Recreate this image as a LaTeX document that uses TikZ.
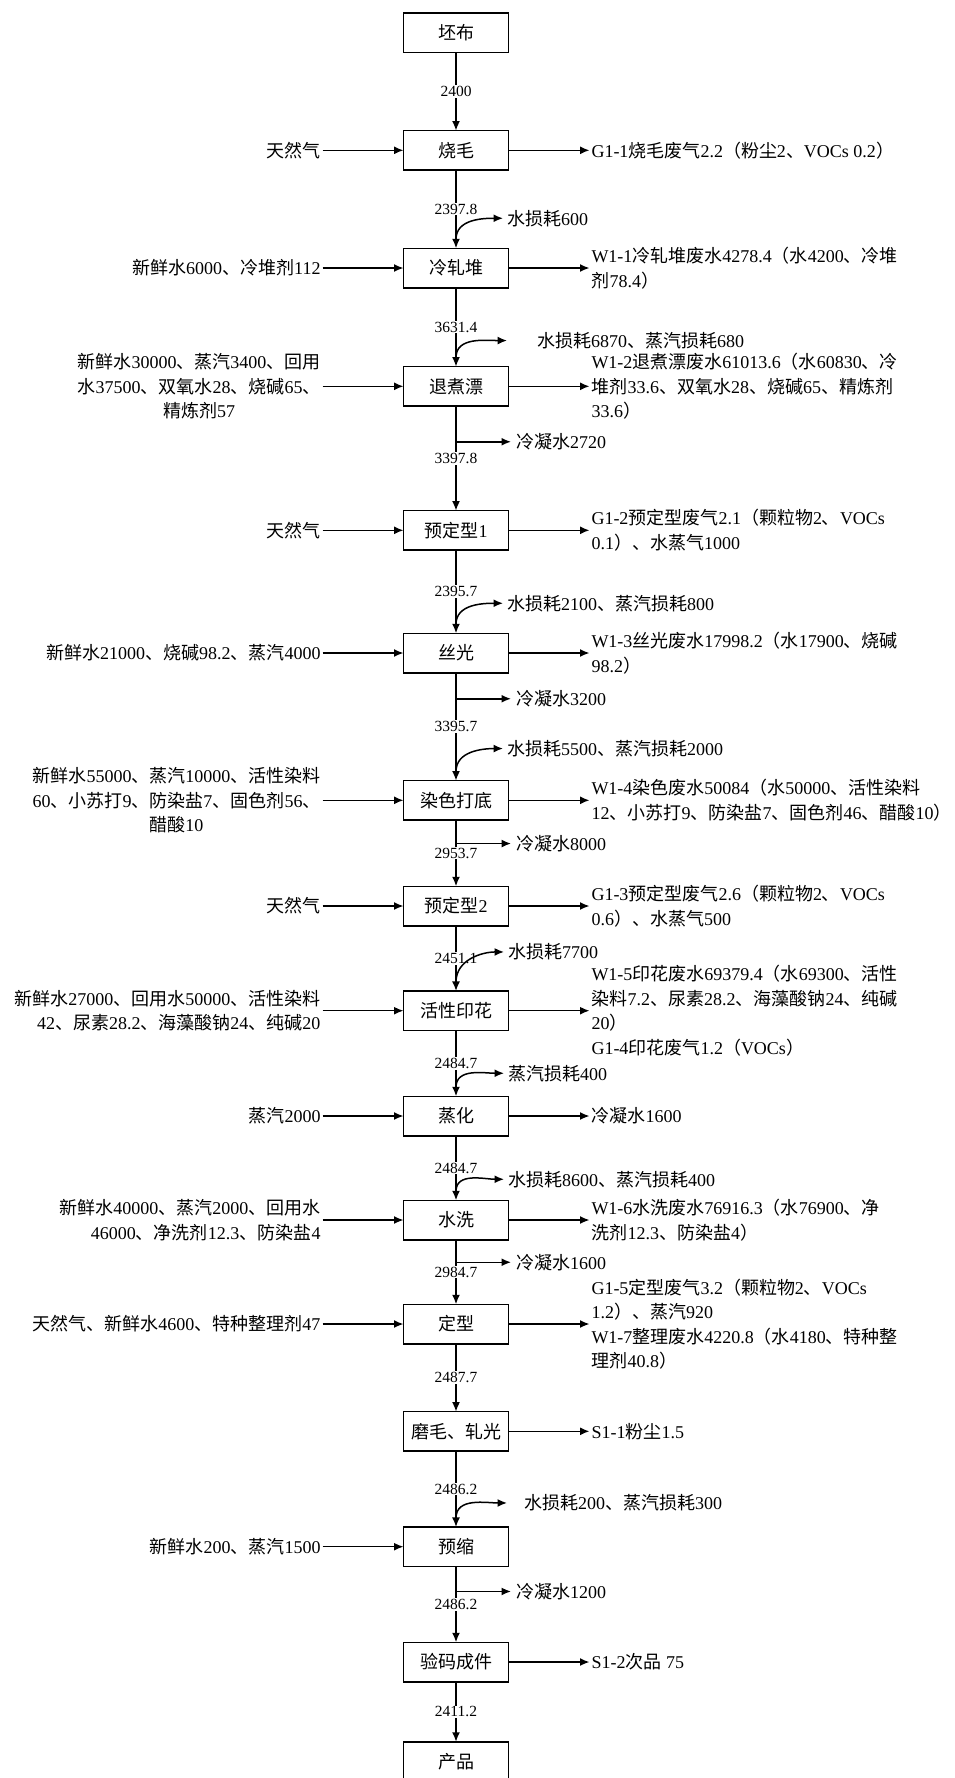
\documentclass[tikz,border=0pt]{standalone}
\usepackage{fontspec}
\setmainfont{Liberation Serif}
\newfontfamily\cjkfont{Noto Sans CJK SC}
\XeTeXinterchartokenstate=1
\newXeTeXintercharclass\cjkclass
\makeatletter
\def\cjkrange#1#2{\count@=#1\relax
  \loop\XeTeXcharclass\count@=\cjkclass
  \ifnum\count@<#2\advance\count@\@ne\repeat}
\cjkrange{"3000}{"303F}
\cjkrange{"4E00}{"9FFF}
\cjkrange{"FF00}{"FFEF}
\makeatother
\XeTeXinterchartoks 0 \cjkclass = {\begingroup\cjkfont}
\XeTeXinterchartoks 4095 \cjkclass = {\begingroup\cjkfont}
\XeTeXinterchartoks \cjkclass 0 = {\endgroup}
\XeTeXinterchartoks \cjkclass 4095 = {\endgroup}
\usepackage{tikz}
\usetikzlibrary{arrows.meta,positioning}

\begin{document}
\begin{tikzpicture}[>={Latex[length=9.5pt,width=8pt]},x=1pt,y=1pt,line width=1.5pt,outer sep=0pt,
  proc/.style={draw,minimum width=105pt,minimum height=39.5pt,font=\fontsize{18}{24.5}\selectfont},
  txt/.style={inner sep=2pt,font=\fontsize{18}{24.5}\selectfont},
  loss/.style={txt,inner xsep=4pt},
  cond/.style={txt,inner xsep=5pt}]
  \useasboundingbox (0,0) rectangle (954,-1778);
  \node[proc]          (1)  at (456,-32.5)         {坯布};
  \node[proc]          (2)  [below=78.3pt of 1]    {烧毛};
  \node[proc]          (3)  [below=78.2pt of 2]    {冷轧堆};
  \node[proc]          (4)  [below=78.8pt of 3]    {退煮漂};
  \node[proc]          (5)  [below=104.5pt of 4]   {预定型1};
  \node[proc]          (6)  [below=83.2pt of 5]    {丝光};
  \node[proc]          (7)  [below=107.8pt of 6]   {染色打底};
  \node[proc]          (8)  [below=66.2pt of 7]    {预定型2};
  \node[proc]          (9)  [below=65.2pt of 8]    {活性印花};
  \node[proc]          (10) [below=65.8pt of 9]    {蒸化};
  \node[proc]          (11) [below=64.5pt of 10]   {水洗};
  \node[proc]          (12) [below=64.5pt of 11]   {定型};
  \node[proc]          (13) [below=67.8pt of 12]   {磨毛、轧光};
  \node[proc]          (14) [below=75.9pt of 13]   {预缩};
  \node[proc]          (15) [below=75.8pt of 14]   {验码成件};
  \node[proc]          (16) [below=60pt of 15]     {产品};

  \node[txt]              (i2)  [left=81pt of 2]  {天然气};
  \node[txt]              (i3)  [left=81pt of 3]  {新鲜水6000、冷堆剂112};
  \node[txt,align=center] (i4)  [left=81pt of 4]  {新鲜水30000、蒸汽3400、回用\\水37500、双氧水28、烧碱65、\\精炼剂57};
  \node[txt]              (i5)  [left=81pt of 5]  {天然气};
  \node[txt]              (i6)  [left=81pt of 6]  {新鲜水21000、烧碱98.2、蒸汽4000};
  \node[txt,align=center] (i7)  [left=81pt of 7]  {新鲜水55000、蒸汽10000、活性染料\\60、小苏打9、防染盐7、固色剂56、\\醋酸10};
  \node[txt]              (i8)  [left=81pt of 8]  {天然气};
  \node[txt,align=right]  (i9)  [left=81pt of 9]  {新鲜水27000、回用水50000、活性染料\\42、尿素28.2、海藻酸钠24、纯碱20};
  \node[txt]              (i10) [left=81pt of 10] {蒸汽2000};
  \node[txt,align=right]  (i11) [left=81pt of 11] {新鲜水40000、蒸汽2000、回用水\\46000、净洗剂12.3、防染盐4};
  \node[txt]              (i12) [left=81pt of 12] {天然气、新鲜水4600、特种整理剂47};
  \node[txt]              (i14) [left=81pt of 14] {新鲜水200、蒸汽1500};

  \node[txt,align=left] (o2)  [right=81pt of 2]  {G1-1烧毛废气2.2（粉尘2、VOCs 0.2）};
  \node[txt,align=left] (o3)  [right=81pt of 3]  {W1-1冷轧堆废水4278.4（水4200、冷堆\\剂78.4）};
  \node[txt,align=left] (o4)  [right=81pt of 4]  {W1-2退煮漂废水61013.6（水60830、冷\\堆剂33.6、双氧水28、烧碱65、精炼剂\\33.6）};
  \node[txt,align=left] (o5)  [right=81pt of 5]  {G1-2预定型废气2.1（颗粒物2、VOCs\\0.1）、水蒸气1000};
  \node[txt,align=left] (o6)  [right=81pt of 6]  {W1-3丝光废水17998.2（水17900、烧碱\\98.2）};
  \node[txt,align=left] (o7)  [right=81pt of 7]  {W1-4染色废水50084（水50000、活性染料\\12、小苏打9、防染盐7、固色剂46、醋酸10）};
  \node[txt,align=left] (o8)  [right=81pt of 8]  {G1-3预定型废气2.6（颗粒物2、VOCs\\0.6）、水蒸气500};
  \node[txt,align=left] (o9)  [right=81pt of 9]  {W1-5印花废水69379.4（水69300、活性\\染料7.2、尿素28.2、海藻酸钠24、纯碱\\20）\\G1-4印花废气1.2（VOCs）};
  \node[txt,align=left] (o10) [right=81pt of 10] {冷凝水1600};
  \node[txt,align=left] (o11) [right=81pt of 11] {W1-6水洗废水76916.3（水76900、净\\洗剂12.3、防染盐4）};
  \node[txt,align=left] (o12) [right=81pt of 12] {G1-5定型废气3.2（颗粒物2、VOCs\\1.2）、蒸汽920\\W1-7整理废水4220.8（水4180、特种整\\理剂40.8）};
  \node[txt,align=left] (o13) [right=81pt of 13] {S1-1粉尘1.5};
  \node[txt,align=left] (o15) [right=81pt of 15] {S1-2次品 75};

  \coordinate [above=9pt of 3]  (s3);
  \coordinate [above=9pt of 4]  (s4);
  \coordinate [above=9pt of 6]  (s6);
  \coordinate [above=9pt of 7]  (s7);
  \coordinate [above=9pt of 9]  (s9);
  \coordinate [above=9pt of 10] (s10);
  \coordinate [above=9pt of 11] (s11);
  \coordinate [above=9pt of 14] (s14);
  \node[loss]                  (l3)  [above right=21pt and 47pt of s3,anchor=west]  {水损耗600};
  \node[loss,inner xsep=30pt]  (l4)  [above right=17pt and 51pt of s4,anchor=west]  {水损耗6870、蒸汽损耗680};
  \node[loss]                  (l6)  [above right=21pt and 47pt of s6,anchor=west]  {水损耗2100、蒸汽损耗800};
  \node[loss]                  (l7)  [above right=23pt and 47pt of s7,anchor=west]  {水损耗5500、蒸汽损耗2000};
  \node[loss]                  (l9)  [above right=30pt and 48pt of s9,anchor=west]  {水损耗7700};
  \node[loss]                  (l10) [above right=14pt and 48pt of s10,anchor=west] {蒸汽损耗400};
  \node[loss]                  (l11) [above right=12pt and 48pt of s11,anchor=west] {水损耗8600、蒸汽损耗400};
  \node[loss,inner xsep=17pt]  (l14) [above right=15pt and 51pt of s14,anchor=west] {水损耗200、蒸汽损耗300};

  \coordinate [below=35.7pt of 4]  (k4);
  \coordinate [below=26pt of 6]    (k6);
  \coordinate [below=23.5pt of 7]  (k7);
  \coordinate [below=22.5pt of 11] (k11);
  \coordinate [below=25pt of 14]   (k14);
  \node[cond] (c4)  [right=55pt of k4]  {冷凝水2720};
  \node[cond] (c6)  [right=55pt of k6]  {冷凝水3200};
  \node[cond] (c7)  [right=55pt of k7]  {冷凝水8000};
  \node[cond] (c11) [right=55pt of k11] {冷凝水1600};
  \node[cond] (c14) [right=55pt of k14] {冷凝水1200};

\tikzset{flow/.style={->}}
\tikzset{every node/.style={fill=white,inner sep=1pt,font=\fontsize{15.5}{17}\selectfont}}
\path (1)  edge [flow] node {2400}   (2)
      (2)  edge [flow] node {2397.8} (3)
      (3)  edge [flow] node {3631.4} (4)
      (4)  edge [flow] node {3397.8} (5)
      (5)  edge [flow] node {2395.7} (6)
      (6)  edge [flow] node {3395.7} (7)
      (7)  edge [flow] node {2953.7} (8)
      (8)  edge [flow] node {2451.1} (9)
      (9)  edge [flow] node {2484.7} (10)
      (10) edge [flow] node {2484.7} (11)
      (11) edge [flow] node {2984.7} (12)
      (12) edge [flow] node {2487.7} (13)
      (13) edge [flow] node {2486.2} (14)
      (14) edge [flow] node {2486.2} (15)
      (15) edge [flow] node {2411.2} (16);
\path (i2)  edge [flow] (2)   (2)  edge [flow] (o2)
      (i3)  edge [flow] (3)   (3)  edge [flow] (o3)
      (i4)  edge [flow] (4)   (4)  edge [flow] (o4)
      (i5)  edge [flow] (5)   (5)  edge [flow] (o5)
      (i6)  edge [flow] (6)   (6)  edge [flow] (o6)
      (i7)  edge [flow] (7)   (7)  edge [flow] (o7)
      (i8)  edge [flow] (8)   (8)  edge [flow] (o8)
      (i9)  edge [flow] (9)   (9)  edge [flow] (o9)
      (i10) edge [flow] (10)  (10) edge [flow] (o10)
      (i11) edge [flow] (11)  (11) edge [flow] (o11)
      (i12) edge [flow] (12)  (12) edge [flow] (o12)
                              (13) edge [flow] (o13)
      (i14) edge [flow] (14)
                              (15) edge [flow] (o15);
\path (s3)  edge [flow,out=90,in=180] (l3.west)
      (s4)  edge [flow,out=90,in=180] (l4.west)
      (s6)  edge [flow,out=90,in=180] (l6.west)
      (s7)  edge [flow,out=90,in=180] (l7.west)
      (s9)  edge [flow,out=90,in=180] (l9.west)
      (s10) edge [flow,out=90,in=180] (l10.west)
      (s11) edge [flow,out=90,in=180] (l11.west)
      (s14) edge [flow,out=90,in=180] (l14.west);
\path (k4)  edge [flow] (c4)
      (k6)  edge [flow] (c6)
      (k7)  edge [flow] (c7)
      (k11) edge [flow] (c11)
      (k14) edge [flow] (c14);
\end{tikzpicture}
\end{document}
